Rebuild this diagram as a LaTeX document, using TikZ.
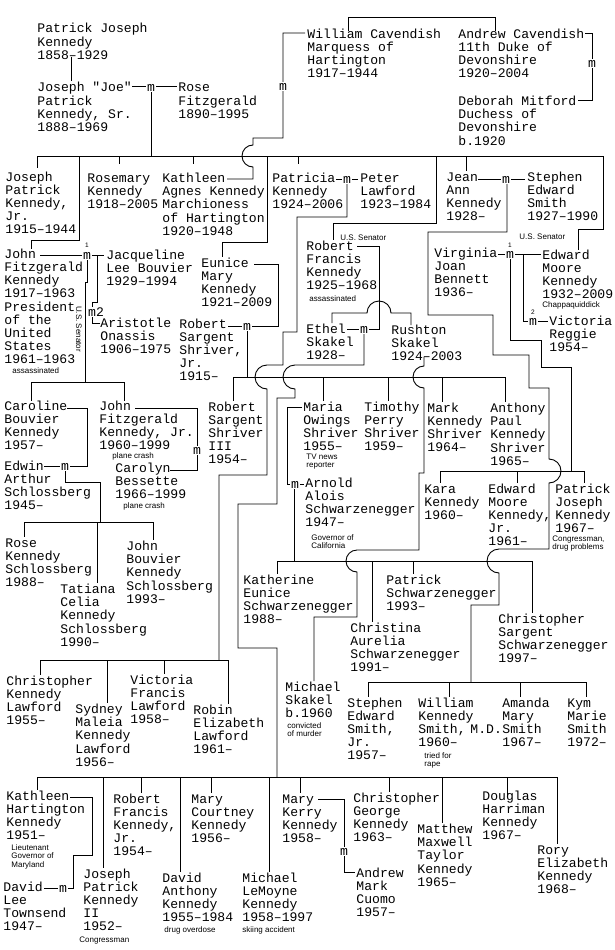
\documentclass[tikz,border=0pt]{standalone}
\usepackage{fontspec}
\newfontfamily\monofam{Liberation Mono}
\newfontfamily\notefam{Liberation Sans}
\newcommand{\famlines}[1]{\begin{tabular}[t]{@{}l@{}}#1\end{tabular}}
\begin{document}
\begin{tikzpicture}[x=1pt,y=-1pt,line width=0.9pt]

    \tikzset{
      pers/.style={anchor=base west, inner sep=0pt, font=\monofam\fontsize{13.1}{13}\selectfont},
      note/.style={anchor=base west, inner sep=0pt, font=\notefam\fontsize{8}{8.8}\selectfont},
      mar/.style={anchor=base, fill=white, inner xsep=0.8pt, inner ysep=0.6pt, font=\monofam\fontsize{13.1}{13}\selectfont},
      idx/.style={anchor=base, inner sep=0pt, font=\notefam\fontsize{6.5}{6.5}\selectfont},
    }
    \useasboundingbox (0,0) rectangle (615,950);
    \fill[white] (0,0) rectangle (615,950);

	% parents and their children
	\draw (71,57) -- (71,81);
	\draw (132,86.5) -- (177,86.5);
	\draw (151,90) -- (151,156);
	\draw (37,156) -- (603,156);
	\draw (37,156) -- (37,168);
	\draw (79,156) -- (79,240) -- (31,240) -- (31,249);
	\draw (119,156) -- (119,164);
	\draw (193,156) -- (193,164);
	\draw (267,156) -- (267,242) -- (222,242) -- (222,257);
	\draw (298,156) -- (298,164);
	\draw (436,156) -- (436,223) -- (333,223) -- (333,240);
	\draw (466,156) -- (466,171);
	\draw (603,156) -- (603,229) -- (578,229) -- (578,250);

	% Cavendish
	\draw (227,179) -- (253,179) -- (253,167) arc[start angle=270, end angle=90, radius=11pt] -- (253,138) -- (283,138) -- (283,33) -- (305,33);
	\draw (348,31) -- (348,17) -- (495,17) -- (495,31);
	\draw (585,33) -- (592,33) -- (592,100) -- (578,100);

	% Lawford
	\draw (336,179) -- (358,179);
	\draw (347,184) -- (347,217) -- (297,217) -- (297,332) -- (283,332) -- (283,365) -- (267,365) arc[start angle=90, end angle=270, radius=12pt] -- (267,475) -- (219,475) -- (219,660);
	\draw (40,660) -- (228,660);
	\draw (40,660) -- (40,675);
	\draw (107,660) -- (107,703);
	\draw (164,660) -- (164,674);
	\draw (228,660) -- (228,704);

	% Smith
	\draw (478,179) -- (525,179);
	\draw (507,184) -- (507,232) -- (428,232) -- (428,315) -- (493,315) -- (493,355) -- (529,355) -- (529,388) -- (549,388) -- (549,459) arc[start angle=90, end angle=-90, radius=12pt] -- (549,549) -- (499,549) arc[start angle=90, end angle=270, radius=12pt] -- (499,605) -- (471,605) -- (471,682);
	\draw (368,682) -- (586,682);
	\draw (368,682) -- (368,697);
	\draw (449,682) -- (449,697);
	\draw (520,682) -- (520,697);
	\draw (586,682) -- (586,697);

	% JFK
	\draw (40,255) -- (104,255);
	\draw (97,255) -- (97,302) -- (92,302) -- (92,309);
	\draw (92,317) -- (92,323) -- (100,323);
	\draw (87,260) -- (87,282) -- (85,282) -- (85,382);
	\draw (31,382) -- (124,382);
	\draw (31,382) -- (31,401);
	\draw (124,382) -- (124,401);
	\draw (67,408) -- (87,408) -- (87,466) -- (44,466);
	\draw (65,471) -- (65,482) -- (100,482) -- (100,522);
	\draw (24,522) -- (153,522);
	\draw (24,522) -- (24,537);
	\draw (97,522) -- (97,583);
	\draw (153,522) -- (153,540);
	\draw (135,408) -- (197,408) -- (197,470) -- (170,470);

	% Shriver
	\draw (254,264) -- (278,264) -- (278,326) -- (228,326);
	\draw (247,331) -- (247,377);
	\draw (233,377) -- (505,377);
	\draw (233,377) -- (233,401);
	\draw (323,377) -- (323,401);
	\draw (388,377) -- (388,401);
	\draw (442,377) -- (442,402);
	\draw (505,377) -- (505,402);
	\draw (302,407) -- (287,407) -- (287,484) -- (304,484);
	\draw (294,489) -- (294,561);
	\draw (277,561) -- (532,561);
	\draw (277,561) -- (277,574);
	\draw (372,561) -- (372,622);
	\draw (413,561) -- (413,574);
	\draw (532,561) -- (532,613);

	% RFK
	\draw (357,246) -- (379,246) -- (379,329) -- (347,329);
	\draw (332,323) -- (332,313) -- (367,313) arc[start angle=180, end angle=0, radius=12pt] -- (411,313) -- (411,325);
	\draw (364,334) -- (364,365) -- (295,365) arc[start angle=90, end angle=270, radius=12pt] -- (295,398) -- (277,398) -- (277,504) -- (238,504) -- (238,648) -- (277,648) -- (277,777);
	\draw (37,777) -- (557,777);
	\draw (37,777) -- (37,790);
	\draw (103,777) -- (103,868);
	\draw (141,777) -- (141,793);
	\draw (180,777) -- (180,872);
	\draw (211,777) -- (211,793);
	\draw (269,777) -- (269,872);
	\draw (300,777) -- (300,793);
	\draw (389,777) -- (389,792);
	\draw (442,777) -- (442,823);
	\draw (507,777) -- (507,797);
	\draw (557,777) -- (557,844);
	\draw (70,797) -- (92,797) -- (92,855) -- (73,855) -- (73,888) -- (44,888);
	\draw (318,799) -- (344,799) -- (344,872) -- (355,872);

	% Skakel
	\draw (424,357) -- (424,366) arc[start angle=90, end angle=270, radius=11pt] -- (424,473) -- (419,473) -- (419,550) -- (357,550) arc[start angle=90, end angle=270, radius=11pt] -- (357,617) -- (314,617) -- (314,681);

	% Ted
	\draw (498,254) -- (541,254);
	\draw (523,254) -- (523,321) -- (548,321);
	\draw (510,259) -- (510,340) -- (541,340) -- (541,367) -- (571,367) -- (571,471);
	\draw (440,471) -- (584,471);
	\draw (440,471) -- (440,483);
	\draw (517,471) -- (517,483);
	\draw (584,471) -- (584,483);

	% marriages
	\node[mar] (mjoe) at (151,91.5) {m};
	\node[mar] (mkw) at (283,90) {m};
	\node[mar] (mad) at (592,67) {m};
	\node[mar] (mpl) at (347,183) {m};
	\node[mar] (mjs) at (506,183) {m};
	\node[mar] (mjfk) at (87,259) {m};
	\node[mar] (mjo) at (96,316) {m2};
	\node[mar] (mes) at (247,330) {m};
	\node[mar] (mre) at (364,333) {m};
	\node[mar] (mted) at (510,258) {m};
	\node[mar] (mtedb) at (533,325.5) {m};
	\node[mar] (mma) at (295,488) {m};
	\node[mar] (mce) at (65,470) {m};
	\node[mar] (mjc) at (197,454) {m};
	\node[mar] (mkd) at (63,892) {m};
	\node[mar] (mmc) at (344,855) {m};
	\node[idx] (njfk) at (87,247) {1};
	\node[idx] (nted) at (510,247.5) {1};
	\node[idx] (ntedb) at (533,314) {2};

	% people
	\node[pers] (pjk) at (37,33) {\famlines{Patrick Joseph\\Kennedy\\1858–1929}};
	\node[pers] (joe) at (37,92) {\famlines{Joseph "Joe"\\Patrick\\Kennedy, Sr.\\1888–1969}};
	\node[pers] (rose) at (178,92) {\famlines{Rose\\Fitzgerald\\1890–1995}};
	\node[pers] (william) at (307,38) {\famlines{William Cavendish\\Marquess of\\Hartington\\1917–1944}};
	\node[pers] (andrew) at (458,38) {\famlines{Andrew Cavendish\\11th Duke of\\Devonshire\\1920–2004}};
	\node[pers] (deborah) at (458,105) {\famlines{Deborah Mitford\\Duchess of\\Devonshire\\b.1920}};
	\node[pers] (joejr) at (5,181) {\famlines{Joseph\\Patrick\\Kennedy,\\Jr.\\1915–1944}};
	\node[pers] (rosemary) at (87,182) {\famlines{Rosemary\\Kennedy\\1918–2005}};
	\node[pers] (kathleen) at (162,182) {\famlines{Kathleen\\Agnes Kennedy\\Marchioness\\of Hartington\\1920–1948}};
	\node[pers] (patricia) at (272,182) {\famlines{Patricia\\Kennedy\\1924–2006}};
	\node[pers] (peter) at (360,182) {\famlines{Peter\\Lawford\\1923–1984}};
	\node[pers] (jean) at (446,181) {\famlines{Jean\\Ann\\Kennedy\\1928–}};
	\node[pers] (stephen) at (527,181) {\famlines{Stephen\\Edward\\Smith\\1927–1990}};
	\node[pers] (jfk) at (4,258) {\famlines{John\\Fitzgerald\\Kennedy\\1917–1963\\President\\of the\\United\\States\\1961–1963}};
	\node[pers] (jackie) at (106,259) {\famlines{Jacqueline\\Lee Bouvier\\1929–1994}};
	\node[pers] (onassis) at (100,327) {\famlines{Aristotle\\Onassis\\1906–1975}};
	\node[pers] (eunice) at (201,267) {\famlines{Eunice\\Mary\\Kennedy\\1921–2009}};
	\node[pers] (sargent) at (179,328) {\famlines{Robert\\Sargent\\Shriver,\\Jr.\\1915–}};
	\node[pers] (rfk) at (306,250) {\famlines{Robert\\Francis\\Kennedy\\1925–1968}};
	\node[pers] (ethel) at (306,333) {\famlines{Ethel\\Skakel\\1928–}};
	\node[pers] (rushton) at (391,334) {\famlines{Rushton\\Skakel\\1924–2003}};
	\node[pers] (virginia) at (434,257) {\famlines{Virginia\\Joan\\Bennett\\1936–}};
	\node[pers] (ted) at (542,259) {\famlines{Edward\\Moore\\Kennedy\\1932–2009}};
	\node[pers] (reggie) at (549,325) {\famlines{Victoria\\Reggie\\1954–}};
	\node[pers] (caroline) at (4,410) {\famlines{Caroline\\Bouvier\\Kennedy\\1957–}};
	\node[pers] (johnjr) at (99,410) {\famlines{John\\Fitzgerald\\Kennedy, Jr.\\1960–1999}};
	\node[pers] (carolyn) at (115,472) {\famlines{Carolyn\\Bessette\\1966–1999}};
	\node[pers] (edwin) at (4,470) {\famlines{Edwin\\Arthur\\Schlossberg\\1945–}};
	\node[pers] (roses) at (5,547) {\famlines{Rose\\Kennedy\\Schlossberg\\1988–}};
	\node[pers] (tatiana) at (60,593) {\famlines{Tatiana\\Celia\\Kennedy\\Schlossberg\\1990–}};
	\node[pers] (jacks) at (126,550) {\famlines{John\\Bouvier\\Kennedy\\Schlossberg\\1993–}};
	\node[pers] (bobbyiii) at (208,411) {\famlines{Robert\\Sargent\\Shriver\\III\\1954–}};
	\node[pers] (maria) at (303,411) {\famlines{Maria\\Owings\\Shriver\\1955–}};
	\node[pers] (timothy) at (364,411) {\famlines{Timothy\\Perry\\Shriver\\1959–}};
	\node[pers] (mark) at (427,412) {\famlines{Mark\\Kennedy\\Shriver\\1964–}};
	\node[pers] (anthony) at (490,412) {\famlines{Anthony\\Paul\\Kennedy\\Shriver\\1965–}};
	\node[pers] (arnold) at (305,487) {\famlines{Arnold\\Alois\\Schwarzenegger\\1947–}};
	\node[pers] (kara) at (424,493) {\famlines{Kara\\Kennedy\\1960–}};
	\node[pers] (tedjr) at (488,493) {\famlines{Edward\\Moore\\Kennedy,\\Jr.\\1961–}};
	\node[pers] (patrickk) at (555,493) {\famlines{Patrick\\Joseph\\Kennedy\\1967–}};
	\node[pers] (katherine) at (243,584) {\famlines{Katherine\\Eunice\\Schwarzenegger\\1988–}};
	\node[pers] (patricks) at (386,584) {\famlines{Patrick\\Schwarzenegger\\1993–}};
	\node[pers] (christina) at (350,632) {\famlines{Christina\\Aurelia\\Schwarzenegger\\1991–}};
	\node[pers] (chriss) at (498,623) {\famlines{Christopher\\Sargent\\Schwarzenegger\\1997–}};
	\node[pers] (michaels) at (285,691) {\famlines{Michael\\Skakel\\b.1960}};
	\node[pers] (stephenjr) at (347,707) {\famlines{Stephen\\Edward\\Smith,\\Jr.\\1957–}};
	\node[pers] (williams) at (418,707) {\famlines{William\\Kennedy\\Smith,\kern-3pt\ M.D.\\1960–}};
	\node[pers] (amanda) at (502,707) {\famlines{Amanda\\Mary\\Smith\\1967–}};
	\node[pers] (kym) at (567,707) {\famlines{Kym\\Marie\\Smith\\1972–}};
	\node[pers] (chrisl) at (6,685) {\famlines{Christopher\\Kennedy\\Lawford\\1955–}};
	\node[pers] (sydney) at (75,713) {\famlines{Sydney\\Maleia\\Kennedy\\Lawford\\1956–}};
	\node[pers] (victorial) at (130,684) {\famlines{Victoria\\Francis\\Lawford\\1958–}};
	\node[pers] (robin) at (193,714) {\famlines{Robin\\Elizabeth\\Lawford\\1961–}};
	\node[pers] (kathleenh) at (6,800) {\famlines{Kathleen\\Hartington\\Kennedy\\1951–}};
	\node[pers] (townsend) at (3,891) {\famlines{David\\Lee\\Townsend\\1947–}};
	\node[pers] (joeii) at (83,878) {\famlines{Joseph\\Patrick\\Kennedy\\II\\1952–}};
	\node[pers] (bobbyjr) at (113,803) {\famlines{Robert\\Francis\\Kennedy,\\Jr.\\1954–}};
	\node[pers] (davida) at (162,882) {\famlines{David\\Anthony\\Kennedy\\1955–1984}};
	\node[pers] (courtney) at (191,803) {\famlines{Mary\\Courtney\\Kennedy\\1956–}};
	\node[pers] (michaell) at (242,882) {\famlines{Michael\\LeMoyne\\Kennedy\\1958–1997}};
	\node[pers] (kerry) at (282,803) {\famlines{Mary\\Kerry\\Kennedy\\1958–}};
	\node[pers] (cuomo) at (356,877) {\famlines{Andrew\\Mark\\Cuomo\\1957–}};
	\node[pers] (chrisg) at (353,802) {\famlines{Christopher\\George\\Kennedy\\1963–}};
	\node[pers] (matthew) at (417,833) {\famlines{Matthew\\Maxwell\\Taylor\\Kennedy\\1965–}};
	\node[pers] (douglas) at (482,800) {\famlines{Douglas\\Harriman\\Kennedy\\1967–}};
	\node[pers] (rory) at (537,854) {\famlines{Rory\\Elizabeth\\Kennedy\\1968–}};

	% notes
	\node[note, anchor=center, rotate=-90] (senjfk) at (79,329) {U.S. Senator};
	\node[note] (senrfk) at (340,240) {U.S. Senator};
	\node[note] (sented) at (519,239) {U.S. Senator};
	\node[note] (assjfk) at (12,373) {assassinated};
	\node[note] (assrfk) at (309,301) {assassinated};
	\node[note] (chappa) at (542,307) {Chappaquiddick};
	\node[note] (tvnews) at (306,459) {\famlines{TV news\\reporter}};
	\node[note] (governor) at (311,540) {\famlines{Governor of\\California}};
	\node[note] (drugs) at (552,541) {\famlines{Congressman,\\drug problems}};
	\node[note] (crashj) at (112,458) {plane crash};
	\node[note] (crashc) at (123,508) {plane crash};
	\node[note] (murder) at (287,728) {\famlines{convicted\\of murder}};
	\node[note] (rape) at (424,758) {\famlines{tried for\\rape}};
	\node[note] (lieut) at (11,850) {\famlines{Lieutenant\\Governor of\\Maryland}};
	\node[note] (congress) at (79,942) {Congressman};
	\node[note] (overdose) at (164,932) {drug overdose};
	\node[note] (skiing) at (242,932) {skiing accident};

\end{tikzpicture}
\end{document}
